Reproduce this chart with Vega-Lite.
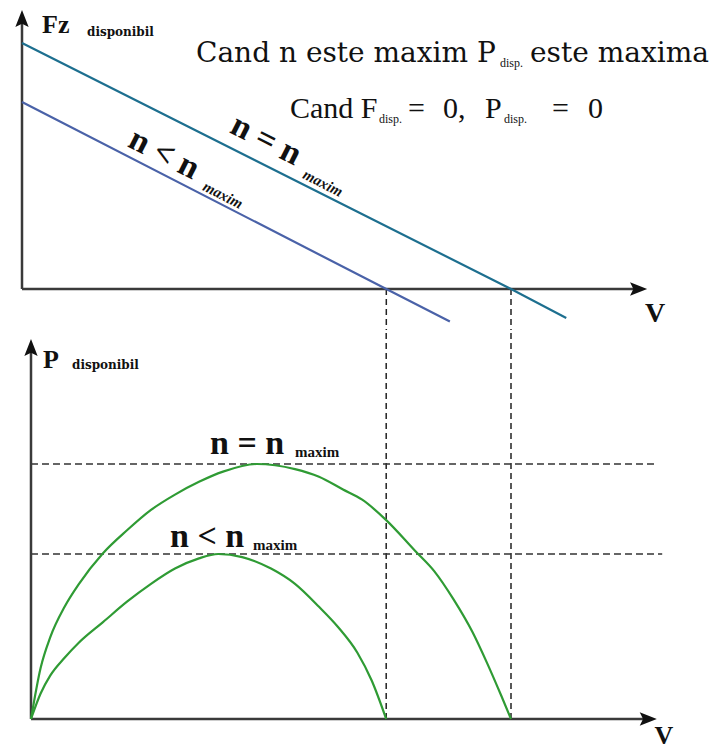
{
  "$schema": "https://vega.github.io/schema/vega-lite/v6.json",
  "background": "white",
  "padding": 0,
  "spacing": 0,
  "config": {"view": {"stroke": null}, "text": {"font": "Liberation Serif"}},
  "datasets": {
    "fz": [
      {"serie": "n = n maxim", "V": 0, "F": 100},
      {"serie": "n = n maxim", "V": 100, "F": 0},
      {"serie": "n = n maxim", "V": 111.3, "F": -11.8},
      {"serie": "n < n maxim", "V": 0, "F": 76},
      {"serie": "n < n maxim", "V": 74.5, "F": 0},
      {"serie": "n < n maxim", "V": 87.5, "F": -13.2}
    ],
    "topAxes": [{"V": 0, "F": 0, "V2": 0, "F2": 109.6}, {"V": 0, "F": 0, "V2": 125.9, "F2": 0}],
    "topArrows": [{"dir": "up", "V": 0, "F": 109.6}, {"dir": "right", "V": 125.9, "F": 0}],
    "topDrops": [{"V": 74.5, "F": 0, "F2": -16.7}, {"V": 100, "F": 0, "F2": -16.7}],
    "topAxisTitle": [{"label": "Fz", "V": 4.09, "F": 104.07}],
    "topAxisSub": [{"label": "disponibil", "V": 13.29, "F": 102.85}],
    "topV": [{"label": "V", "V": 129.45, "F": -13.41}],
    "caption1": [{"label": "Cand n este maxim P", "V": 35.58, "F": 92.28}, {"label": "este maxima", "V": 103.89, "F": 92.28}],
    "caption2": [
      {"label": "Cand F", "V": 54.81, "F": 69.51},
      {"label": "=", "V": 78.94, "F": 69.51},
      {"label": "0,", "V": 86.09, "F": 69.51},
      {"label": "P", "V": 94.68, "F": 69.51},
      {"label": "=", "V": 108.38, "F": 69.51},
      {"label": "0", "V": 115.75, "F": 69.51}
    ],
    "captionSub": [
      {"label": "disp.", "V": 97.75, "F": 90.24},
      {"label": "disp.", "V": 73.0, "F": 67.48},
      {"label": "disp.", "V": 98.57, "F": 67.48}
    ],
    "fzLabel": [{"label": "n = n", "V": 49.9, "F": 60.57}, {"label": "n < n", "V": 29.04, "F": 54.88}],
    "fzLabelSub": [{"label": "maxim", "V": 61.55, "F": 43.09}, {"label": "maxim", "V": 41.1, "F": 38.21}],
    "pd": [
      {"serie": "n = n maxim", "V": 0, "P": 0},
      {"serie": "n = n maxim", "V": 2, "P": 20},
      {"serie": "n = n maxim", "V": 4, "P": 32},
      {"serie": "n = n maxim", "V": 7, "P": 44},
      {"serie": "n = n maxim", "V": 10, "P": 53},
      {"serie": "n = n maxim", "V": 15, "P": 65},
      {"serie": "n = n maxim", "V": 20, "P": 74},
      {"serie": "n = n maxim", "V": 25, "P": 82},
      {"serie": "n = n maxim", "V": 30, "P": 88},
      {"serie": "n = n maxim", "V": 35, "P": 93},
      {"serie": "n = n maxim", "V": 40, "P": 97},
      {"serie": "n = n maxim", "V": 47, "P": 100},
      {"serie": "n = n maxim", "V": 55, "P": 98},
      {"serie": "n = n maxim", "V": 60, "P": 95},
      {"serie": "n = n maxim", "V": 65, "P": 90},
      {"serie": "n = n maxim", "V": 69, "P": 86},
      {"serie": "n = n maxim", "V": 74, "P": 78},
      {"serie": "n = n maxim", "V": 80, "P": 66},
      {"serie": "n = n maxim", "V": 84, "P": 58},
      {"serie": "n = n maxim", "V": 88, "P": 47},
      {"serie": "n = n maxim", "V": 92, "P": 34},
      {"serie": "n = n maxim", "V": 95, "P": 22},
      {"serie": "n = n maxim", "V": 98, "P": 9},
      {"serie": "n = n maxim", "V": 100, "P": 0},
      {"serie": "n < n maxim", "V": 0, "P": 0},
      {"serie": "n < n maxim", "V": 2, "P": 10},
      {"serie": "n < n maxim", "V": 4, "P": 17},
      {"serie": "n < n maxim", "V": 7, "P": 24},
      {"serie": "n < n maxim", "V": 10, "P": 30},
      {"serie": "n < n maxim", "V": 15, "P": 38},
      {"serie": "n < n maxim", "V": 20, "P": 46},
      {"serie": "n < n maxim", "V": 25, "P": 53},
      {"serie": "n < n maxim", "V": 30, "P": 59},
      {"serie": "n < n maxim", "V": 35, "P": 63},
      {"serie": "n < n maxim", "V": 39, "P": 64.7},
      {"serie": "n < n maxim", "V": 44, "P": 63.5},
      {"serie": "n < n maxim", "V": 50, "P": 59},
      {"serie": "n < n maxim", "V": 55, "P": 53},
      {"serie": "n < n maxim", "V": 60, "P": 44},
      {"serie": "n < n maxim", "V": 64, "P": 36},
      {"serie": "n < n maxim", "V": 68, "P": 26},
      {"serie": "n < n maxim", "V": 71, "P": 15},
      {"serie": "n < n maxim", "V": 74, "P": 0}
    ],
    "botAxes": [{"V": 0, "P": 0, "V2": 0, "P2": 145.3}, {"V": 0, "P": 0, "V2": 128.4, "P2": 0}],
    "botArrows": [{"dir": "up", "V": 0, "P": 145.3}, {"dir": "right", "V": 128.4, "P": 0}],
    "botDrops": [{"V": 74, "P": 0, "P2": 151.8}, {"V": 100, "P": 0, "P2": 151.8}],
    "botLevels": [{"V": 0, "V2": 130.4, "P": 100}, {"V": 0, "V2": 131.5, "P": 64.7}],
    "botAxisTitle": [{"label": "P", "V": 2.5, "P": 137.65}],
    "botAxisSub": [{"label": "disponibil", "V": 8.54, "P": 137.25}],
    "botV": [{"label": "V", "V": 131.875, "P": -9.8}],
    "pLabel": [{"label": "n = n", "V": 37.29, "P": 103.92}, {"label": "n < n", "V": 28.96, "P": 67.45}],
    "pLabelSub": [{"label": "maxim", "V": 55, "P": 102.75}, {"label": "maxim", "V": 46.25, "P": 66.27}]
  },
  "vconcat": [
    {
      "width": 718,
      "height": 330,
      "encoding": {
        "x": {"field": "V", "type": "quantitative", "scale": {"domain": [-4.499, 142.331], "nice": false, "zero": false}, "axis": null},
        "y": {"field": "F", "type": "quantitative", "scale": {"domain": [-16.667, 117.48], "nice": false, "zero": false}, "axis": null}
      },
      "layer": [
        {"data": {"name": "topDrops"}, "mark": {"type": "rule", "strokeDash": [6, 4], "strokeWidth": 1.5, "color": "#222"}, "encoding": {"y2": {"field": "F2"}}},
        {"data": {"name": "topAxes"}, "mark": {"type": "rule", "strokeWidth": 2.5, "color": "#3a3a3a"}, "encoding": {"x2": {"field": "V2"}, "y2": {"field": "F2"}}},
        {"data": {"name": "topArrows"}, "mark": {"type": "point", "filled": true, "opacity": 1, "size": 361, "color": "#111", "strokeWidth": 0},
          "encoding": {"shape": {"field": "dir", "type": "nominal", "scale": {"domain": ["up", "right"], "range": ["M0,-1L0.7,0.8L0,0.45L-0.7,0.8Z", "M1,0L-0.8,0.7L-0.45,0L-0.8,-0.7Z"]}, "legend": null}}},
        {"data": {"name": "fz"}, "mark": {"type": "line", "strokeWidth": 2.2},
          "encoding": {"color": {"field": "serie", "type": "nominal", "scale": {"domain": ["n = n maxim", "n < n maxim"], "range": ["#1d6f8f", "#4a62a8"]}, "legend": null}}},
        {"data": {"name": "topAxisTitle"}, "mark": {"type": "text", "align": "left", "baseline": "alphabetic", "fontSize": 26, "fontWeight": "bold", "color": "#111"}, "encoding": {"text": {"field": "label"}}},
        {"data": {"name": "topAxisSub"}, "mark": {"type": "text", "align": "left", "baseline": "alphabetic", "font": "DejaVu Serif", "fontSize": 12, "fontWeight": "bold", "color": "#111"}, "encoding": {"text": {"field": "label"}}},
        {"data": {"name": "topV"}, "mark": {"type": "text", "align": "center", "baseline": "alphabetic", "fontSize": 28, "fontWeight": "bold", "color": "#111"}, "encoding": {"text": {"field": "label"}}},
        {"data": {"name": "caption1"}, "mark": {"type": "text", "align": "left", "baseline": "alphabetic", "font": "DejaVu Serif", "fontSize": 28, "color": "#111"}, "encoding": {"text": {"field": "label"}}},
        {"data": {"name": "caption2"}, "mark": {"type": "text", "align": "left", "baseline": "alphabetic", "fontSize": 30, "color": "#111"}, "encoding": {"text": {"field": "label"}}},
        {"data": {"name": "captionSub"}, "mark": {"type": "text", "align": "left", "baseline": "alphabetic", "fontSize": 12, "color": "#111"}, "encoding": {"text": {"field": "label"}}},
        {"data": {"name": "fzLabel"}, "mark": {"type": "text", "align": "center", "baseline": "middle", "angle": 27, "fontSize": 34, "fontWeight": "bold", "color": "#111"}, "encoding": {"text": {"field": "label"}}},
        {"data": {"name": "fzLabelSub"}, "mark": {"type": "text", "align": "center", "baseline": "middle", "angle": 27, "fontSize": 15, "fontWeight": "bold", "fontStyle": "italic", "color": "#111"}, "encoding": {"text": {"field": "label"}}}
      ]
    },
    {
      "width": 718,
      "height": 422,
      "encoding": {
        "x": {"field": "V", "type": "quantitative", "scale": {"domain": [-6.4583, 143.125], "nice": false, "zero": false}, "axis": null},
        "y": {"field": "P", "type": "quantitative", "scale": {"domain": [-13.725, 151.765], "nice": false, "zero": false}, "axis": null}
      },
      "layer": [
        {"data": {"name": "botDrops"}, "mark": {"type": "rule", "strokeDash": [6, 4], "strokeWidth": 1.5, "color": "#222"}, "encoding": {"y2": {"field": "P2"}}},
        {"data": {"name": "botLevels"}, "mark": {"type": "rule", "strokeDash": [7, 4], "strokeWidth": 1.6, "color": "#333"}, "encoding": {"x2": {"field": "V2"}}},
        {"data": {"name": "botAxes"}, "mark": {"type": "rule", "strokeWidth": 2.5, "color": "#3a3a3a"}, "encoding": {"x2": {"field": "V2"}, "y2": {"field": "P2"}}},
        {"data": {"name": "botArrows"}, "mark": {"type": "point", "filled": true, "opacity": 1, "size": 361, "color": "#111", "strokeWidth": 0},
          "encoding": {"shape": {"field": "dir", "type": "nominal", "scale": {"domain": ["up", "right"], "range": ["M0,-1L0.7,0.8L0,0.45L-0.7,0.8Z", "M1,0L-0.8,0.7L-0.45,0L-0.8,-0.7Z"]}, "legend": null}}},
        {"data": {"name": "pd"}, "mark": {"type": "line", "strokeWidth": 2.2, "interpolate": "monotone", "color": "#2f9b34"}, "encoding": {"detail": {"field": "serie", "type": "nominal"}}},
        {"data": {"name": "botAxisTitle"}, "mark": {"type": "text", "align": "left", "baseline": "alphabetic", "fontSize": 26, "fontWeight": "bold", "color": "#111"}, "encoding": {"text": {"field": "label"}}},
        {"data": {"name": "botAxisSub"}, "mark": {"type": "text", "align": "left", "baseline": "alphabetic", "font": "DejaVu Serif", "fontSize": 12, "fontWeight": "bold", "color": "#111"}, "encoding": {"text": {"field": "label"}}},
        {"data": {"name": "botV"}, "mark": {"type": "text", "align": "center", "baseline": "alphabetic", "fontSize": 26, "fontWeight": "bold", "color": "#111"}, "encoding": {"text": {"field": "label"}}},
        {"data": {"name": "pLabel"}, "mark": {"type": "text", "align": "left", "baseline": "alphabetic", "fontSize": 34, "fontWeight": "bold", "color": "#111"}, "encoding": {"text": {"field": "label"}}},
        {"data": {"name": "pLabelSub"}, "mark": {"type": "text", "align": "left", "baseline": "alphabetic", "fontSize": 15, "fontWeight": "bold", "color": "#111"}, "encoding": {"text": {"field": "label"}}}
      ]
    }
  ]
}
